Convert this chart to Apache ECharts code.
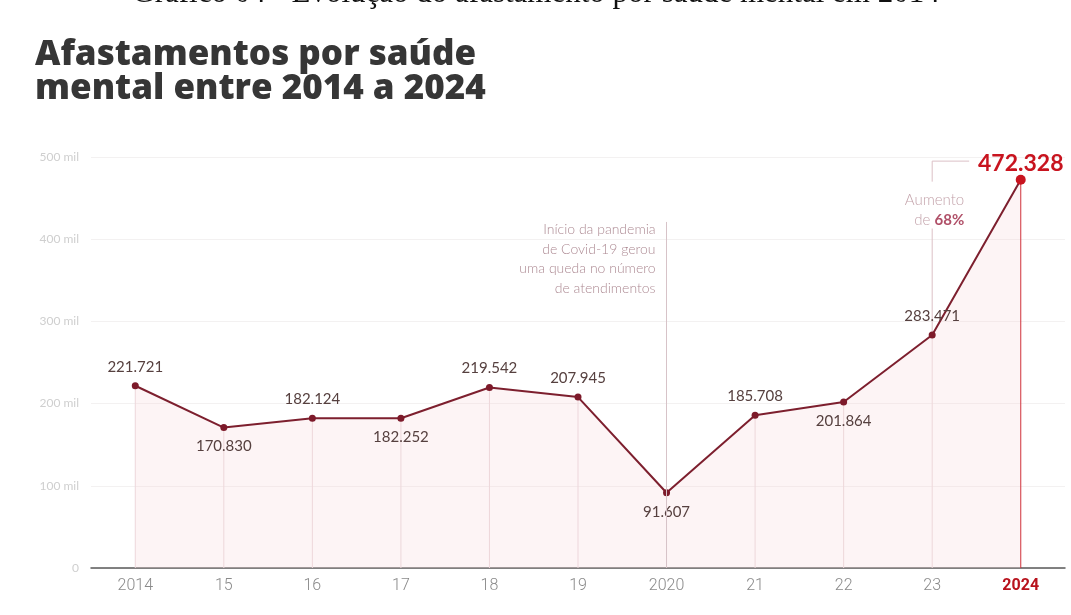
<!DOCTYPE html>
<html>
<head>
<meta charset="utf-8">
<script src="https://cdn.jsdelivr.net/npm/echarts@6/dist/echarts.min.js"></script>
<style>
  html, body { margin: 0; padding: 0; background: #ffffff; }
  #chart { width: 1071px; height: 615px; }
</style>
</head>
<body>
<div id="chart"></div>
<script>
// Afastamentos por saúde mental, 2014–2024
const years = ['2014', '15', '16', '17', '18', '19', '2020', '21', '22', '23', '2024'];
const afastamentos = [221721, 170830, 182124, 182252, 219542, 207945, 91607, 185708, 201864, 283471, 472328];
const labelSide = ['top', 'bottom', 'top', 'bottom', 'top', 'top', 'bottom', 'top', 'bottom', 'top', 'top'];
const yTicks = [0, 100000, 200000, 300000, 400000, 500000];

const highlightIndex = years.length - 1;
const pandemicIndex = years.indexOf('2020');

const fmt = v => v.toLocaleString('de-DE');

const chart = echarts.init(document.getElementById('chart'));

const lineData = afastamentos.map((v, i) => {
  const last = i === highlightIndex;
  return {
    value: v,
    symbolSize: last ? 10 : 7,
    itemStyle: { color: last ? '#c8141f' : '#7d1a2a' },
    label: {
      position: labelSide[i],
      distance: last ? 0 : 8,
      fontSize: last ? 23 : 15,
      fontWeight: last ? 'bold' : 'normal',
      color: last ? '#c8141f' : '#56403f'
    }
  };
});

const dropData = afastamentos.map((v, i) => ({
  value: v,
  itemStyle: { color: i === highlightIndex ? '#c8141f' : '#ead8db' }
}));

chart.setOption({
  animation: false,
  backgroundColor: '#ffffff',
  title: {
    text: 'Afastamentos por saúde\nmental entre 2014 a 2024',
    left: 30,
    top: 33,
    textStyle: {
      fontFamily: 'Open Sans',
      fontWeight: 800,
      fontSize: 35,
      lineHeight: 34,
      color: '#363636'
    }
  },
  grid: { left: 91, right: 6, top: 157, bottom: 47 },
  xAxis: {
    type: 'category',
    data: years,
    boundaryGap: true,
    axisLine: { lineStyle: { color: '#5a5a5a', width: 1.5 } },
    axisTick: { show: false },
    axisLabel: {
      margin: 10,
      fontFamily: 'Roboto',
      fontWeight: 300,
      fontSize: 16,
      color: '#8a8a8a',
      formatter: (v, i) => i === highlightIndex ? '{hl|' + v + '}' : v,
      rich: {
        hl: { fontFamily: 'Roboto', fontWeight: 'bold', fontSize: 16, color: '#b8121c' }
      }
    }
  },
  yAxis: {
    type: 'value',
    min: 0,
    max: yTicks[yTicks.length - 1],
    interval: 100000,
    axisLine: { show: false },
    axisTick: { show: false },
    splitLine: { lineStyle: { color: '#f3f1f1', width: 1 } },
    axisLabel: {
      margin: 12,
      fontFamily: 'Lato',
      fontSize: 12,
      color: '#cfcfcf',
      formatter: v => v === 0 ? '0' : (v / 1000) + ' mil'
    }
  },
  series: [
    {
      type: 'bar',
      data: dropData,
      barWidth: 1,
      z: 1,
      silent: true,
      markLine: {
        silent: true,
        symbol: 'none',
        label: { show: false },
        lineStyle: { color: '#d7c3c8', width: 1, type: 'solid' },
        data: [
          [{ coord: [pandemicIndex, 0] }, { coord: [pandemicIndex, 421000] }]
        ]
      }
    },
    {
      type: 'line',
      data: lineData,
      symbol: 'circle',
      z: 3,
      lineStyle: { color: '#7d1f2e', width: 2 },
      areaStyle: { color: 'rgba(246, 214, 219, 0.38)' },
      label: {
        show: true,
        fontFamily: 'Lato',
        formatter: p => fmt(p.value)
      }
    }
  ]
});

// Annotations placed through the chart's own coordinate conversion
function px(idx, val) {
  return chart.convertToPixel({ gridIndex: 0 }, [idx, val]);
}
const p2020 = px(pandemicIndex, 421000);
const p23Low = px(9, afastamentos[9]);
const p23Gap = px(9, 413000);
const p23TextTop = px(9, 470000);
const p23Top = px(9, 495000);

chart.setOption({
  graphic: [
    {
      type: 'text',
      x: 536,
      y: 9,
      style: {
        text: 'Gráfico 04 - Evolução do afastamento por saúde mental em 2014',
        font: '31px "Liberation Serif"',
        align: 'center',
        verticalAlign: 'bottom',
        fill: '#111111'
      }
    },
    {
      type: 'text',
      x: p2020[0] - 11,
      y: p2020[1] - 2,
      style: {
        text: 'Início da pandemia\nde Covid-19 gerou\numa queda no número\nde atendimentos',
        font: '300 14px Lato',
        lineHeight: 19.5,
        align: 'right',
        verticalAlign: 'top',
        fill: '#ad8a93'
      }
    },
    {
      type: 'polyline',
      silent: true,
      shape: { points: [[p23Low[0], p23Low[1]], [p23Gap[0], p23Gap[1]]] },
      style: { stroke: '#dcc0c6', lineWidth: 1, fill: null }
    },
    {
      type: 'polyline',
      silent: true,
      shape: { points: [[p23TextTop[0], p23TextTop[1]], [p23Top[0], p23Top[1]], [p23Top[0] + 37, p23Top[1]]] },
      style: { stroke: '#dcc0c6', lineWidth: 1, fill: null }
    },
    {
      type: 'text',
      x: p23Low[0] + 32,
      y: p23TextTop[1] + 9,
      style: {
        text: 'Aumento\nde {b|68%}',
        font: '300 15px Lato',
        lineHeight: 19.5,
        align: 'right',
        verticalAlign: 'top',
        fill: '#c3a2aa',
        rich: {
          b: { font: 'bold 15px Lato', fill: '#b05068' }
        }
      }
    }
  ]
});
</script>
</body>
</html>
